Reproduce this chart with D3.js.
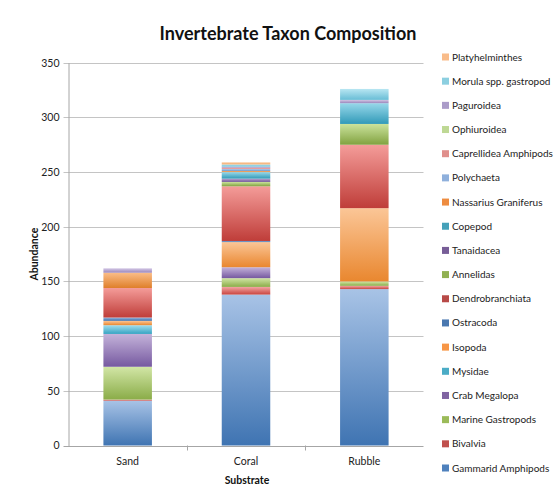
<!DOCTYPE html>
<html>
<head>
<meta charset="utf-8">
<script src="https://cdn.jsdelivr.net/npm/d3@7"></script>
<style>
  html, body { margin: 0; padding: 0; background: #fff; }
  svg { display: block; font-family: Lato, "Open Sans", sans-serif; }
</style>
</head>
<body>
<svg id="chart" width="557" height="500"></svg>
<script>
// Substrates sampled
const substrates = ["Sand", "Coral", "Rubble"];

// Taxa, in stacking order (bottom to top)
const taxa = [
  "Gammarid Amphipods", "Bivalvia", "Marine Gastropods", "Crab Megalopa",
  "Mysidae", "Isopoda", "Ostracoda", "Dendrobranchiata", "Annelidas",
  "Tanaidacea", "Copepod", "Nassarius Graniferus", "Polychaeta",
  "Caprellidea Amphipods", "Ophiuroidea", "Paguroidea",
  "Morula spp. gastropod", "Platyhelminthes"
];

// Abundance per taxon: [Sand, Coral, Rubble]
const abundance = [
  [41, 138, 143],  // Gammarid Amphipods
  [1, 7, 3],       // Bivalvia
  [30, 8, 4],      // Marine Gastropods
  [30, 10, 0],     // Crab Megalopa
  [8, 0, 0],       // Mysidae
  [4, 23, 67],     // Isopoda
  [3, 1, 0],       // Ostracoda
  [27, 50, 58],    // Dendrobranchiata
  [0, 4, 19],      // Annelidas
  [0, 3, 0],       // Tanaidacea
  [0, 6, 19],      // Copepod
  [14, 1, 0],      // Nassarius Graniferus
  [0, 2, 0],       // Polychaeta
  [0, 1, 0],       // Caprellidea Amphipods
  [0, 0, 0],       // Ophiuroidea
  [4, 1, 3],       // Paguroidea
  [0, 2, 10],      // Morula spp. gastropod
  [0, 2, 0]        // Platyhelminthes
];

const yTicks = [0, 50, 100, 150, 200, 250, 300, 350];

// Gradient stops per series: [top (light), bottom (dark)]
const palette = [
  ["#a8c3e6", "#3f74b2"], ["#f2a6a4", "#c9443f"], ["#d2e6a6", "#8aac48"],
  ["#c4b3da", "#7659a0"], ["#a2deee", "#36a3c2"], ["#fbc697", "#e9872f"],
  ["#9dbbe2", "#386aa6"], ["#f49c99", "#bf3d39"], ["#cbe39c", "#81a240"],
  ["#bba8d4", "#6e5296"], ["#98d8ea", "#319ab8"], ["#fabd88", "#df7f2a"],
  ["#b9d0ee", "#6f98cc"], ["#f6b8b6", "#dc7672"], ["#ddedbd", "#a9c77a"],
  ["#d3c7e5", "#9a86bb"], ["#b8e6f2", "#68bdd6"], ["#fcd3b0", "#f2a463"]
];
const legendSwatch = [
  "#4f81bd", "#c0504d", "#9bbb59", "#8064a2", "#4bacc6", "#f79646",
  "#4a78b0", "#b84a47", "#91b152", "#775d97", "#45a1b9", "#ee8c40",
  "#8fb0dc", "#e08f8c", "#bed894", "#ab9cc9", "#8ccfe0", "#f9bc8a"
];

const svg = d3.select("#chart");

const defs = svg.append("defs");
palette.forEach((c, i) => {
  const g = defs.append("linearGradient")
    .attr("id", "grad" + i)
    .attr("x1", 0).attr("y1", 0).attr("x2", 0).attr("y2", 1);
  g.append("stop").attr("offset", "0%").attr("stop-color", c[0]);
  g.append("stop").attr("offset", "100%").attr("stop-color", c[1]);
});

const plot = { left: 68.5, right: 423.5, top: 62.7, bottom: 445.5 };

const x = d3.scaleBand().domain(substrates).range([plot.left, plot.right]).padding(0);
const y = d3.scaleLinear().domain([0, 350]).range([plot.bottom, plot.top]);
const barW = x.bandwidth() * 0.41;

// Gridlines
svg.append("g")
  .selectAll("line")
  .data(yTicks)
  .join("line")
  .attr("x1", plot.left - 5).attr("x2", plot.right)
  .attr("y1", d => Math.round(y(d)) + 0.5).attr("y2", d => Math.round(y(d)) + 0.5)
  .attr("stroke", d => d === 0 ? "#a6a6a6" : "#c4c4c4")
  .attr("stroke-width", 1);

// Y axis labels
const yAxis = d3.axisLeft(y).tickValues(yTicks).tickSize(0).tickPadding(9);
const gy = svg.append("g").attr("transform", `translate(${plot.left},0)`).call(yAxis);
gy.select(".domain").attr("stroke", "#a6a6a6");
gy.selectAll("text").attr("font-size", 10.5).attr("fill", "#222")
  .attr("font-family", "Lato, sans-serif");

// X axis tick marks between categories
const boundaries = substrates.slice(1).map(s => x(s));
svg.append("g").selectAll("line")
  .data(boundaries)
  .join("line")
  .attr("x1", d => Math.round(d) + 0.5).attr("x2", d => Math.round(d) + 0.5)
  .attr("y1", plot.bottom).attr("y2", plot.bottom + 5)
  .attr("stroke", "#a6a6a6");

// Stacked bars
const rows = substrates.map((s, j) => {
  const r = { substrate: s };
  taxa.forEach((t, i) => { r[t] = abundance[i][j]; });
  return r;
});
const stack = d3.stack().keys(taxa)(rows);

svg.append("g").selectAll("g")
  .data(stack)
  .join("g")
  .attr("fill", (d, i) => `url(#grad${i})`)
  .selectAll("rect")
  .data(d => d.filter(p => p[1] - p[0] > 0))
  .join("rect")
  .attr("x", d => x(d.data.substrate) + (x.bandwidth() - barW) / 2)
  .attr("width", barW)
  .attr("y", d => y(d[1]))
  .attr("height", d => y(d[0]) - y(d[1]));

// X axis category labels
const xAxis = d3.axisBottom(x).tickSize(0).tickPadding(12);
const gx = svg.append("g").attr("transform", `translate(0,${plot.bottom})`).call(xAxis);
gx.select(".domain").remove();
gx.selectAll("text").attr("font-size", 10.5).attr("fill", "#222")
  .attr("font-family", "Lato, sans-serif");

// Titles
svg.append("text")
  .attr("x", 288).attr("y", 40)
  .attr("text-anchor", "middle")
  .attr("font-size", 18).attr("font-weight", "bold").attr("fill", "#111")
  .text("Invertebrate Taxon Composition");

svg.append("text")
  .attr("x", (plot.left + plot.right) / 2 + 1).attr("y", 484)
  .attr("text-anchor", "middle")
  .attr("font-size", 10.5).attr("font-weight", "bold").attr("fill", "#111")
  .text("Substrate");

svg.append("text")
  .attr("transform", `translate(38,${(plot.top + plot.bottom) / 2}) rotate(-90)`)
  .attr("text-anchor", "middle")
  .attr("font-size", 10.5).attr("font-weight", "bold").attr("fill", "#111")
  .text("Abundance");

// Legend (top entry is the last series)
const legendItems = taxa.map((t, i) => ({ name: t, i })).reverse();
const ly = d3.scalePoint().domain(legendItems.map(d => d.name)).range([57, 468]);
const lg = svg.append("g").selectAll("g")
  .data(legendItems)
  .join("g")
  .attr("transform", d => `translate(442,${ly(d.name)})`);
lg.append("rect")
  .attr("x", 0).attr("y", -3.5).attr("width", 7).attr("height", 7)
  .attr("fill", d => legendSwatch[d.i]);
lg.append("text")
  .attr("x", 10).attr("y", 0).attr("dy", "0.35em")
  .attr("font-size", 10).attr("fill", "#222")
  .text(d => d.name);
</script>
</body>
</html>
